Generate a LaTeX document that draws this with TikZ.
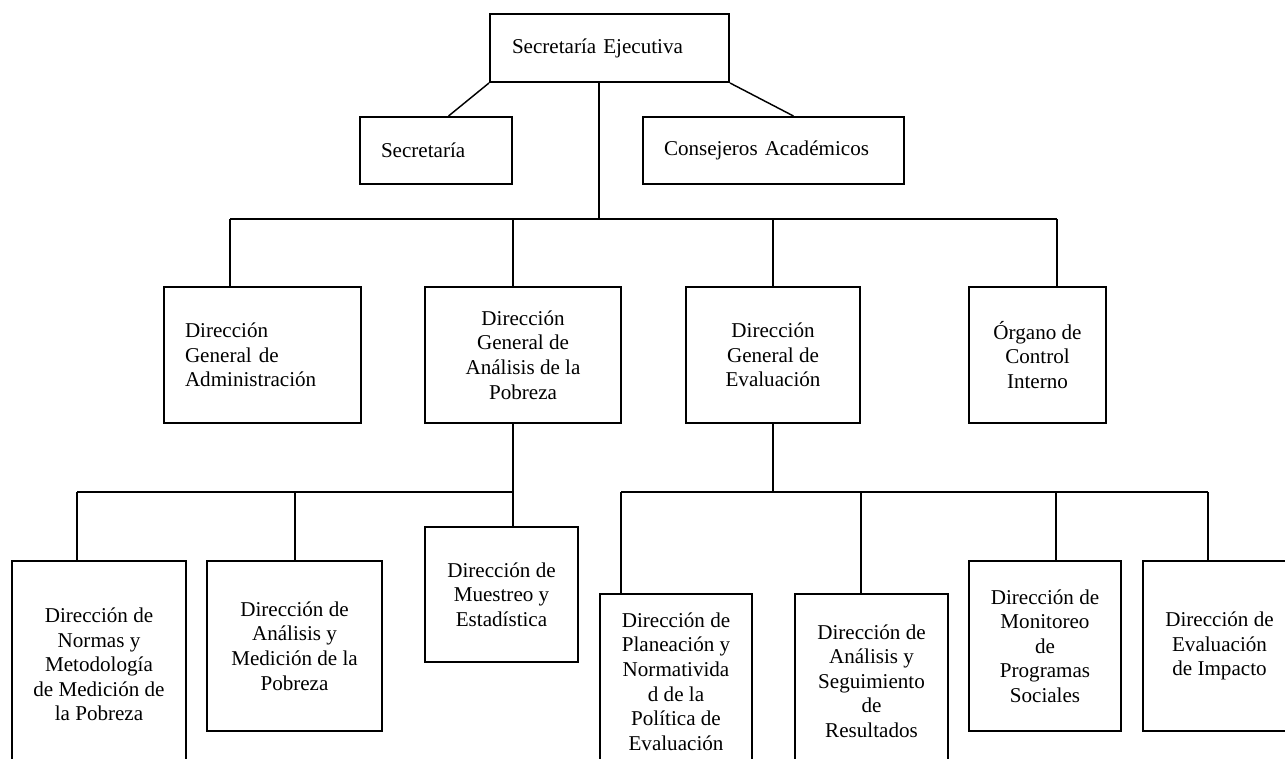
\documentclass[tikz,border=0pt]{standalone}
\usepackage{fontspec}
\setmainfont{Liberation Serif}
\tikzset{
  org/.style={draw, line width=1.1pt, inner sep=0pt, align=center, font=\fontsize{11.6}{13.5}\selectfont},
  dim/.style 2 args={minimum width=#1*0.55pt, minimum height=#2*0.55pt},
  lft/.style={align=left, text width=#1*0.55pt},
  link/.style={line width=0.8pt}
}
\begin{document}
\begin{tikzpicture}[x=0.55pt,y=-0.55pt]
                \useasboundingbox (0,0) rectangle (1285,759);
                \clip (0,0) rectangle (1285,759);
                \node[org,dim={239}{68},lft=195] (SE) at (609.5,48) {Secretaría Ejecutiva};
                \node[org,dim={152}{67},lft=110] (Sec) at (436,150.5) {Secretaría};
                \node[org,dim={261}{67},lft=219] (Cons) at (773.5,150.5) {Consejeros Académicos};
                \node[org,dim={197}{136},lft=155] (DGA) at (262.5,355) {Dirección\\General de\\Administración};
                \node[org,dim={196}{136}] (DGAP) at (523,355) {Dirección\\General de\\Análisis de la\\Pobreza};
                \node[org,dim={174}{136}] (DGE) at (773,355) {Dirección\\General de\\Evaluación};
                \node[org,dim={137}{136}] (OCI) at (1037.5,355) {Órgano de\\Control\\Interno};
                \node[org,dim={174}{207}] (DNM) at (99,664.5) {Dirección de\\Normas y\\Metodología\\de Medición de\\la Pobreza};
                \node[org,dim={175}{170}] (DAM) at (294.5,646) {Dirección de\\Análisis y\\Medición de la\\Pobreza};
                \node[org,dim={153}{135}] (DME) at (501.5,594.5) {Dirección de\\Muestreo y\\Estadística};
                \node[org,dim={152}{175}] (DPN) at (676,681.5) {Dirección de\\Planeación y\\Normativida\\d de la\\Política de\\Evaluación};
                \node[org,dim={153}{174}] (DAS) at (871.5,681) {Dirección de\\Análisis y\\Seguimiento\\de\\Resultados};
                \node[org,dim={152}{170}] (DMP) at (1045,646) {Dirección de\\Monitoreo\\de\\Programas\\Sociales};
                \node[org,dim={153}{170}] (DEI) at (1219.5,646) {Dirección de\\Evaluación\\de Impacto};

                \coordinate (B1) at (599,219); \coordinate (B1a) at (230,219); \coordinate (B1b) at (513,219); \coordinate (B1c) at (773,219); \coordinate (B1d) at (1057,219);
                \coordinate (B2) at (513,492); \coordinate (B2a) at (77,492); \coordinate (B2b) at (295,492);
                \coordinate (B3) at (773,492); \coordinate (B3a) at (621,492); \coordinate (B3b) at (861,492); \coordinate (B3c) at (1056,492); \coordinate (B3d) at (1208,492);

                \draw[link] (SE.south west) to (Sec.70); \draw[link] (SE.south east) to (Cons.60); \draw[link] (SE.south -| B1) to (B1);
                \draw[link] (B1a) to (B1d);
                \draw[link] (B1a) to (B1a |- DGA.north); \draw[link] (B1b) to (B1b |- DGAP.north); \draw[link] (B1c) to (B1c |- DGE.north); \draw[link] (B1d) to (B1d |- OCI.north);
                \draw[link] (DGAP.south -| B2) to (B2); \draw[link] (B2a) to (B2);
                \draw[link] (B2a) to (B2a |- DNM.north); \draw[link] (B2b) to (B2b |- DAM.north); \draw[link] (B2) to (B2 |- DME.north);
                \draw[link] (DGE.south -| B3) to (B3); \draw[link] (B3a) to (B3d);
                \draw[link] (B3a) to (B3a |- DPN.north); \draw[link] (B3b) to (B3b |- DAS.north); \draw[link] (B3c) to (B3c |- DMP.north); \draw[link] (B3d) to (B3d |- DEI.north);
            \end{tikzpicture}
\end{document}
